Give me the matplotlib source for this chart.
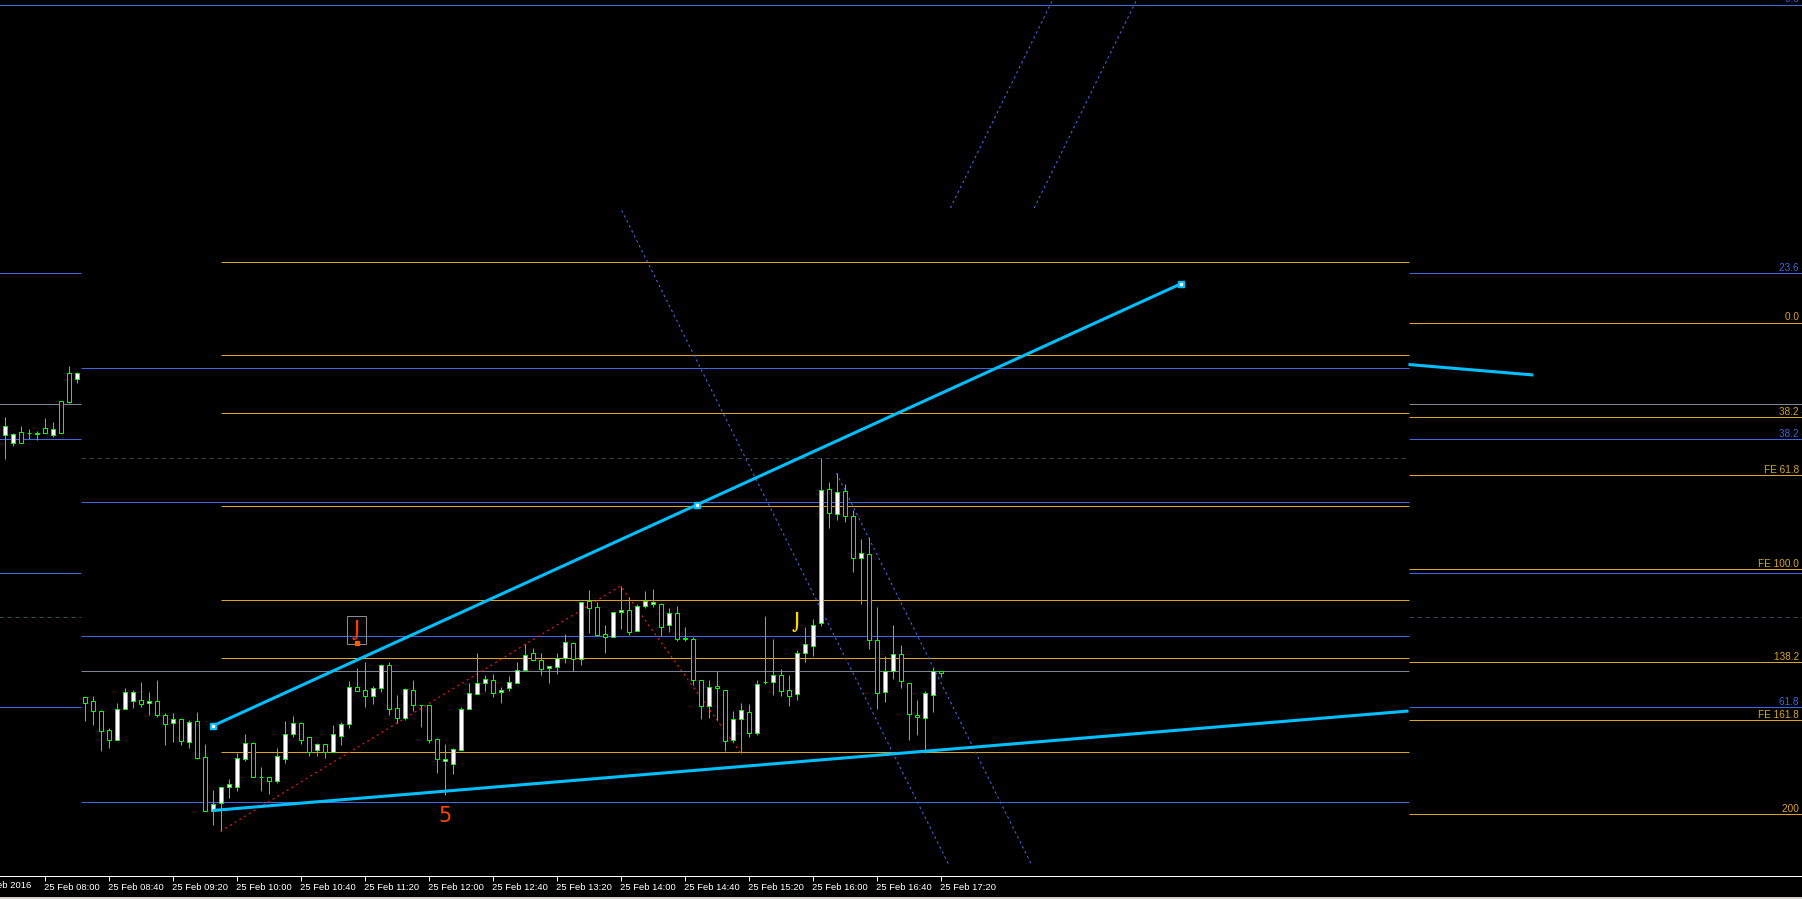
#!/usr/bin/env python3
"""MT4 style M5 candle chart, 25 Feb 2016, with fibo levels and trendlines."""

import matplotlib

matplotlib.use("Agg")
import matplotlib.pyplot as plt
import numpy as np
import pandas as pd
from matplotlib.patches import Rectangle

# 5 minute bars, first bar at 07:35 (prices in chart points)
BAR_START = "2016-02-25 07:35"
OPEN = [565.3, 557.3, 567.7, 566.7, 566.3, 571.7, 564.7, 598.7, 627.0, 621.3,
        302.7, 298.7, 288.7, 269.7, 259.7, 290.7, 298.7, 299.7, 296.7, 298.7,
        284.7, 276.7, 280.7, 258.0, 278.7, 242.7, 188.7, 196.7, 212.7, 212.7,
        241.3, 257.0, 223.3, 222.7, 218.7, 241.3, 265.7, 276.7, 262.7, 250.0,
        256.0, 248.3, 264.3, 275.7, 312.7, 309.7, 304.3, 311.7, 335.0, 291.7,
        282.3, 309.7, 295.0, 295.0, 260.7, 238.7, 236.3, 250.3, 291.3, 306.3,
        316.7, 319.7, 307.7, 311.7, 316.7, 329.7, 346.7, 340.0, 331.7, 333.3,
        341.7, 356.7, 340.7, 398.7, 392.7, 365.7, 362.7, 387.7, 389.7, 368.7,
        393.7, 395.7, 396.0, 374.7, 386.7, 362.0, 360.7, 319.7, 293.7, 313.7,
        309.7, 259.7, 280.7, 287.7, 266.7, 317.7, 317.7, 324.7, 309.7, 305.7,
        346.7, 354.3, 376.7, 510.7, 485.7, 508.7, 483.7, 441.7, 445.7, 359.7,
        308.3, 328.7, 345.7, 316.7, 285.0, 281.7, 304.7, 328.7]
HIGH = [583.0, 566.7, 574.0, 571.0, 569.0, 582.0, 578.0, 598.7, 634.0, 628.0,
        302.7, 304.0, 290.0, 271.7, 297.0, 312.0, 310.0, 318.0, 307.7, 320.0,
        287.3, 287.3, 280.7, 279.7, 288.0, 256.0, 210.3, 212.7, 221.0, 247.3,
        266.0, 258.3, 233.0, 223.3, 251.7, 279.0, 284.0, 278.3, 262.7, 256.7,
        256.0, 274.7, 277.7, 318.7, 332.0, 338.0, 314.0, 336.0, 337.7, 305.0,
        312.0, 320.0, 295.0, 295.0, 262.3, 255.7, 251.7, 293.3, 316.7, 347.0,
        325.0, 326.0, 313.0, 323.7, 338.0, 356.0, 351.7, 346.7, 333.7, 346.7,
        366.0, 358.3, 397.7, 410.0, 397.7, 375.0, 387.7, 414.0, 402.7, 396.3,
        409.0, 411.0, 396.7, 391.7, 394.0, 373.0, 363.0, 319.7, 319.7, 328.7,
        309.7, 289.0, 297.0, 295.7, 320.0, 384.0, 361.0, 331.0, 325.0, 350.0,
        373.0, 381.0, 541.7, 518.0, 527.0, 516.0, 489.7, 461.0, 463.0, 393.0,
        344.0, 375.0, 355.0, 316.7, 300.0, 309.0, 331.7, 328.7]
LOW = [541.0, 554.3, 557.3, 561.0, 560.3, 567.3, 563.3, 567.3, 597.0, 617.3,
       279.3, 275.3, 249.3, 252.0, 259.7, 290.7, 292.3, 293.0, 284.7, 283.3,
       255.3, 258.3, 255.3, 252.0, 241.3, 188.7, 174.7, 168.7, 202.3, 209.3,
       239.3, 222.7, 209.3, 205.7, 216.7, 237.3, 262.7, 256.3, 244.3, 244.3,
       242.3, 248.3, 254.7, 272.3, 309.3, 293.0, 296.3, 308.3, 285.0, 276.7,
       280.3, 289.3, 273.3, 256.7, 227.3, 205.3, 225.7, 250.3, 291.3, 306.3,
       309.0, 303.3, 297.3, 309.3, 316.7, 329.7, 339.7, 325.3, 317.3, 326.3,
       337.3, 329.3, 335.3, 367.3, 364.0, 347.3, 362.7, 371.0, 365.0, 368.7,
       392.3, 393.0, 364.0, 368.3, 359.0, 359.0, 315.3, 281.3, 282.3, 280.0,
       249.0, 258.0, 247.3, 263.3, 265.0, 316.3, 305.0, 304.3, 294.3, 300.3,
       338.3, 344.3, 374.3, 472.3, 480.3, 478.3, 428.3, 396.3, 351.3, 291.3,
       298.3, 321.0, 312.3, 260.3, 265.3, 246.7, 288.3, 323.0]
CLOSE = [574.0, 565.7, 557.3, 566.7, 567.3, 567.3, 570.7, 567.3, 598.0, 627.0,
         297.3, 288.7, 268.7, 260.3, 290.7, 307.7, 307.7, 296.3, 298.7, 284.7,
         276.3, 280.7, 258.7, 278.0, 242.3, 188.7, 196.0, 212.7, 215.7, 242.0,
         257.0, 222.7, 223.3, 218.7, 243.7, 265.7, 276.7, 260.3, 248.3, 255.7,
         248.3, 265.7, 275.7, 312.7, 309.3, 304.3, 311.7, 335.0, 291.3, 282.3,
         310.7, 294.7, 295.0, 260.3, 241.3, 241.0, 250.7, 290.7, 306.7, 316.7,
         320.7, 307.3, 310.3, 317.7, 329.7, 345.3, 339.7, 331.3, 333.7, 341.7,
         357.7, 341.0, 397.7, 391.7, 365.3, 362.7, 387.7, 389.7, 367.7, 393.7,
         398.7, 397.7, 373.3, 386.7, 361.3, 361.0, 319.7, 293.7, 312.7, 311.7,
         259.3, 280.7, 289.7, 267.3, 315.7, 317.7, 324.7, 308.7, 303.7, 346.7,
         355.7, 375.0, 510.0, 486.7, 507.7, 483.7, 441.7, 446.7, 359.7, 307.3,
         328.7, 345.7, 318.7, 285.7, 282.7, 306.7, 328.7, 327.0]

TIME_LABELS = ["25 Feb 08:00", "25 Feb 08:40", "25 Feb 09:20", "25 Feb 10:00",
               "25 Feb 10:40", "25 Feb 11:20", "25 Feb 12:00", "25 Feb 12:40",
               "25 Feb 13:20", "25 Feb 14:00", "25 Feb 14:40", "25 Feb 15:20",
               "25 Feb 16:00", "25 Feb 16:40", "25 Feb 17:20"]
FIRST_LABEL = "25 Feb 2016"

# objects inside the middle window (bars 9.5 .. 175.5)
WINDOW = (9.5, 175.5)
MID_FIBO = [631.7, 497.7, 363.7, 197.7]
MID_FE = [738.0, 644.7, 586.7, 493.7, 399.7, 341.7, 247.7]
MID_FE_START = 27
MID_GRAY = 328.7
MID_DASH = 541.7

# objects outside the window
TOP_FIBO = 995.4
OUT_FIBO = [726.7, 560.7, 426.7, 292.7]
OUT_FIBO_LABELS = ["23.6", "38.2", "", "61.8"]
OUT_GRAY = 595.7
OUT_DASH = 382.7
RIGHT_FE = [677.0, 582.7, 524.7, 430.7, 337.7, 280.0, 185.7]
RIGHT_FE_LABELS = ["0.0", "38.2", "FE 61.8", "FE 100.0", "138.2", "FE 161.8", "200"]

# trendlines (bar, price)
UPPER_TL_BARS = [26, 147]
UPPER_TL_PRICES = [274.0, 716.0]
LOWER_TL_BARS = [26, 175.5]
LOWER_TL_PRICES = [189.5, 289.0]
RIGHT_TL_BARS = [175.5, 191.1]
RIGHT_TL_PRICES = [635.5, 625.0]
FE_BASE_BARS = [27, 77, 92]
FE_BASE_PRICES = [168.7, 414.0, 247.3]
CHANNEL_BARS = [(77.15, 118.09), (104.0, 128.44), (118.24, 131.01), (128.72, 141.51)]
CHANNEL_PRICES = [(789.6, 134.4), (526.7, 134.4), (792.0, 1000.0), (792.0, 1000.0)]

# arrow objects
SIGNAL_BARS = [44, 99]
SIGNAL_PRICES = [370.0, 377.7]
SIGNAL_COLORS = ["#ff3a00", "#ffd700"]
FRACTAL_BAR = 55
FRACTAL_PRICE = 183.6

LIME = "#00ff00"
BLUE = "#3e66e0"
ORANGE = "#daa520"
GRAY = "#7a8696"
DASH = "#2f5050"
CYAN = "#00bfff"
PX = 0.72  # one pixel in points at dpi 100
FS = 6.8

plt.rcParams["font.family"] = ["Liberation Sans", "DejaVu Sans"]

W, H = 1802, 899
AXIS_Y = 876.3
fig = plt.figure(figsize=(W / 100, H / 100), dpi=100, facecolor="black")
ax = fig.add_axes([0, (H - AXIS_Y) / H, 1, AXIS_Y / H])
ax.set_facecolor("black")
ax.set_xlim(-4.5 / 8, (W - 4.5) / 8)
ax.set_ylim(1000 - AXIS_Y, 1000)

o, h, l, c = (np.asarray(a) for a in (OPEN, HIGH, LOW, CLOSE))
x = np.arange(len(o))
times = pd.date_range(BAR_START, periods=len(o), freq="5min")

# horizontal levels
left, right = -1, 226


def outside(p, color, **kw):
    ax.hlines([p, p], [left, WINDOW[1]], [WINDOW[0], right], colors=color, lw=PX, zorder=1, **kw)


for p in MID_FIBO:
    ax.hlines(p, WINDOW[0], WINDOW[1], colors=BLUE, lw=PX, zorder=1)
for p in MID_FE:
    ax.hlines(p, MID_FE_START, WINDOW[1], colors=ORANGE, lw=PX, zorder=1)
ax.hlines(MID_GRAY, WINDOW[0], WINDOW[1], colors=GRAY, lw=PX, zorder=1)
ax.hlines(MID_DASH, WINDOW[0], WINDOW[1], colors=DASH, lw=PX, linestyles=(0, (4, 4)), zorder=1)

ax.hlines(TOP_FIBO, left, right, colors=BLUE, lw=PX, zorder=1)
for p in OUT_FIBO:
    outside(p, BLUE)
outside(OUT_GRAY, GRAY)
outside(OUT_DASH, DASH, linestyles=(0, (4, 4)))
for p in RIGHT_FE:
    ax.hlines(p, WINDOW[1], right, colors=ORANGE, lw=PX, zorder=1)

label_x = (W + 3 - 4.5) / 8
lbl_kw = dict(ha="right", va="baseline", fontsize=FS + 0.4, zorder=6)
ax.text(label_x, TOP_FIBO + 2.5, "0.0 -", color=BLUE, **lbl_kw)
for p, t in zip(OUT_FIBO, OUT_FIBO_LABELS):
    if t:
        ax.text(label_x, p + 2.5, t + " -", color=BLUE, **lbl_kw)
for p, t in zip(RIGHT_FE, RIGHT_FE_LABELS):
    ax.text(label_x, p + 2.5, t + " -", color=ORANGE, **lbl_kw)

# channel and fibo base lines
for bx, by in zip(CHANNEL_BARS, CHANNEL_PRICES):
    ax.plot(bx, by, color=BLUE, lw=0.8, linestyle=(0, (2.2, 2.8)), zorder=2)
ax.plot(FE_BASE_BARS, FE_BASE_PRICES, color="#ff1a1a", lw=0.8, linestyle=(0, (1.8, 3.2)), zorder=2)

# candles
ax.vlines(x, l, h, colors=LIME, lw=PX, zorder=3)
for i in range(len(o)):
    bull = c[i] > o[i]
    ax.add_patch(Rectangle((x[i] - 0.25, min(o[i], c[i])), 0.5, abs(c[i] - o[i]),
                           facecolor="white" if bull else "black", edgecolor=LIME,
                           lw=PX, zorder=4))

# trendlines
ax.plot(UPPER_TL_BARS, UPPER_TL_PRICES, color=CYAN, lw=2.2, zorder=5, solid_capstyle="butt")
ax.plot(LOWER_TL_BARS, LOWER_TL_PRICES, color=CYAN, lw=2.2, zorder=5, solid_capstyle="butt")
ax.plot(RIGHT_TL_BARS, RIGHT_TL_PRICES, color=CYAN, lw=2.2, zorder=5, solid_capstyle="butt")
mid_bar = np.mean(UPPER_TL_BARS)
mid_price = np.mean(UPPER_TL_PRICES)
mk_x = [UPPER_TL_BARS[0], mid_bar, UPPER_TL_BARS[1]]
mk_y = [UPPER_TL_PRICES[0], mid_price, UPPER_TL_PRICES[1]]
ax.plot(mk_x, mk_y, ls="none", marker="s", ms=4.6, mfc=CYAN, mec=CYAN, zorder=6)
ax.plot(mk_x, mk_y, ls="none", marker="s", ms=1.4, mfc="white", mec="white", zorder=7)

# arrow objects
for b, p, col in zip(SIGNAL_BARS, SIGNAL_PRICES, SIGNAL_COLORS):
    boxed = b == SIGNAL_BARS[0]
    ax.text(b, p, "\u2321", color=col, fontsize=12, ha="center", va="center",
            family="DejaVu Sans", fontweight="bold", zorder=7,
            bbox=dict(boxstyle="square,pad=0.25", fc="none", ec="#8c8c8c", lw=PX) if boxed else None)
ax.plot(SIGNAL_BARS[0], SIGNAL_PRICES[0] - 13.3, ls="none", marker="s", ms=2.2,
        mfc="#ff5a00", mec="#ff5a00", zorder=7)
ax.text(FRACTAL_BAR, FRACTAL_PRICE, "5", color="#ff4500", fontsize=15,
        family="DejaVu Sans", ha="center", va="center", zorder=7)

# time axis
tick_pos = [times.get_loc(pd.Timestamp("2016-02-25 " + t[-5:])) for t in TIME_LABELS]
ax.set_xticks(tick_pos, TIME_LABELS)
ax.set_yticks([])
ax.tick_params(axis="x", colors="white", length=3.5, width=PX, pad=1.5, labelsize=FS)
for t in ax.get_xticklabels():
    t.set_ha("left")
ax.text((31 - 4.5) / 8, 1000 - AXIS_Y - 5.0, FIRST_LABEL, color="white", fontsize=FS,
        ha="right", va="top", clip_on=False)
for side in ("top", "left", "right"):
    ax.spines[side].set_visible(False)
ax.spines["bottom"].set_color("white")
ax.spines["bottom"].set_linewidth(PX)

fig.patches.append(Rectangle((0, 0), 1, 2.2 / H, transform=fig.transFigure,
                             facecolor="#d4d0c8", edgecolor="none"))

fig.savefig("out.png", dpi=100, facecolor="black")
